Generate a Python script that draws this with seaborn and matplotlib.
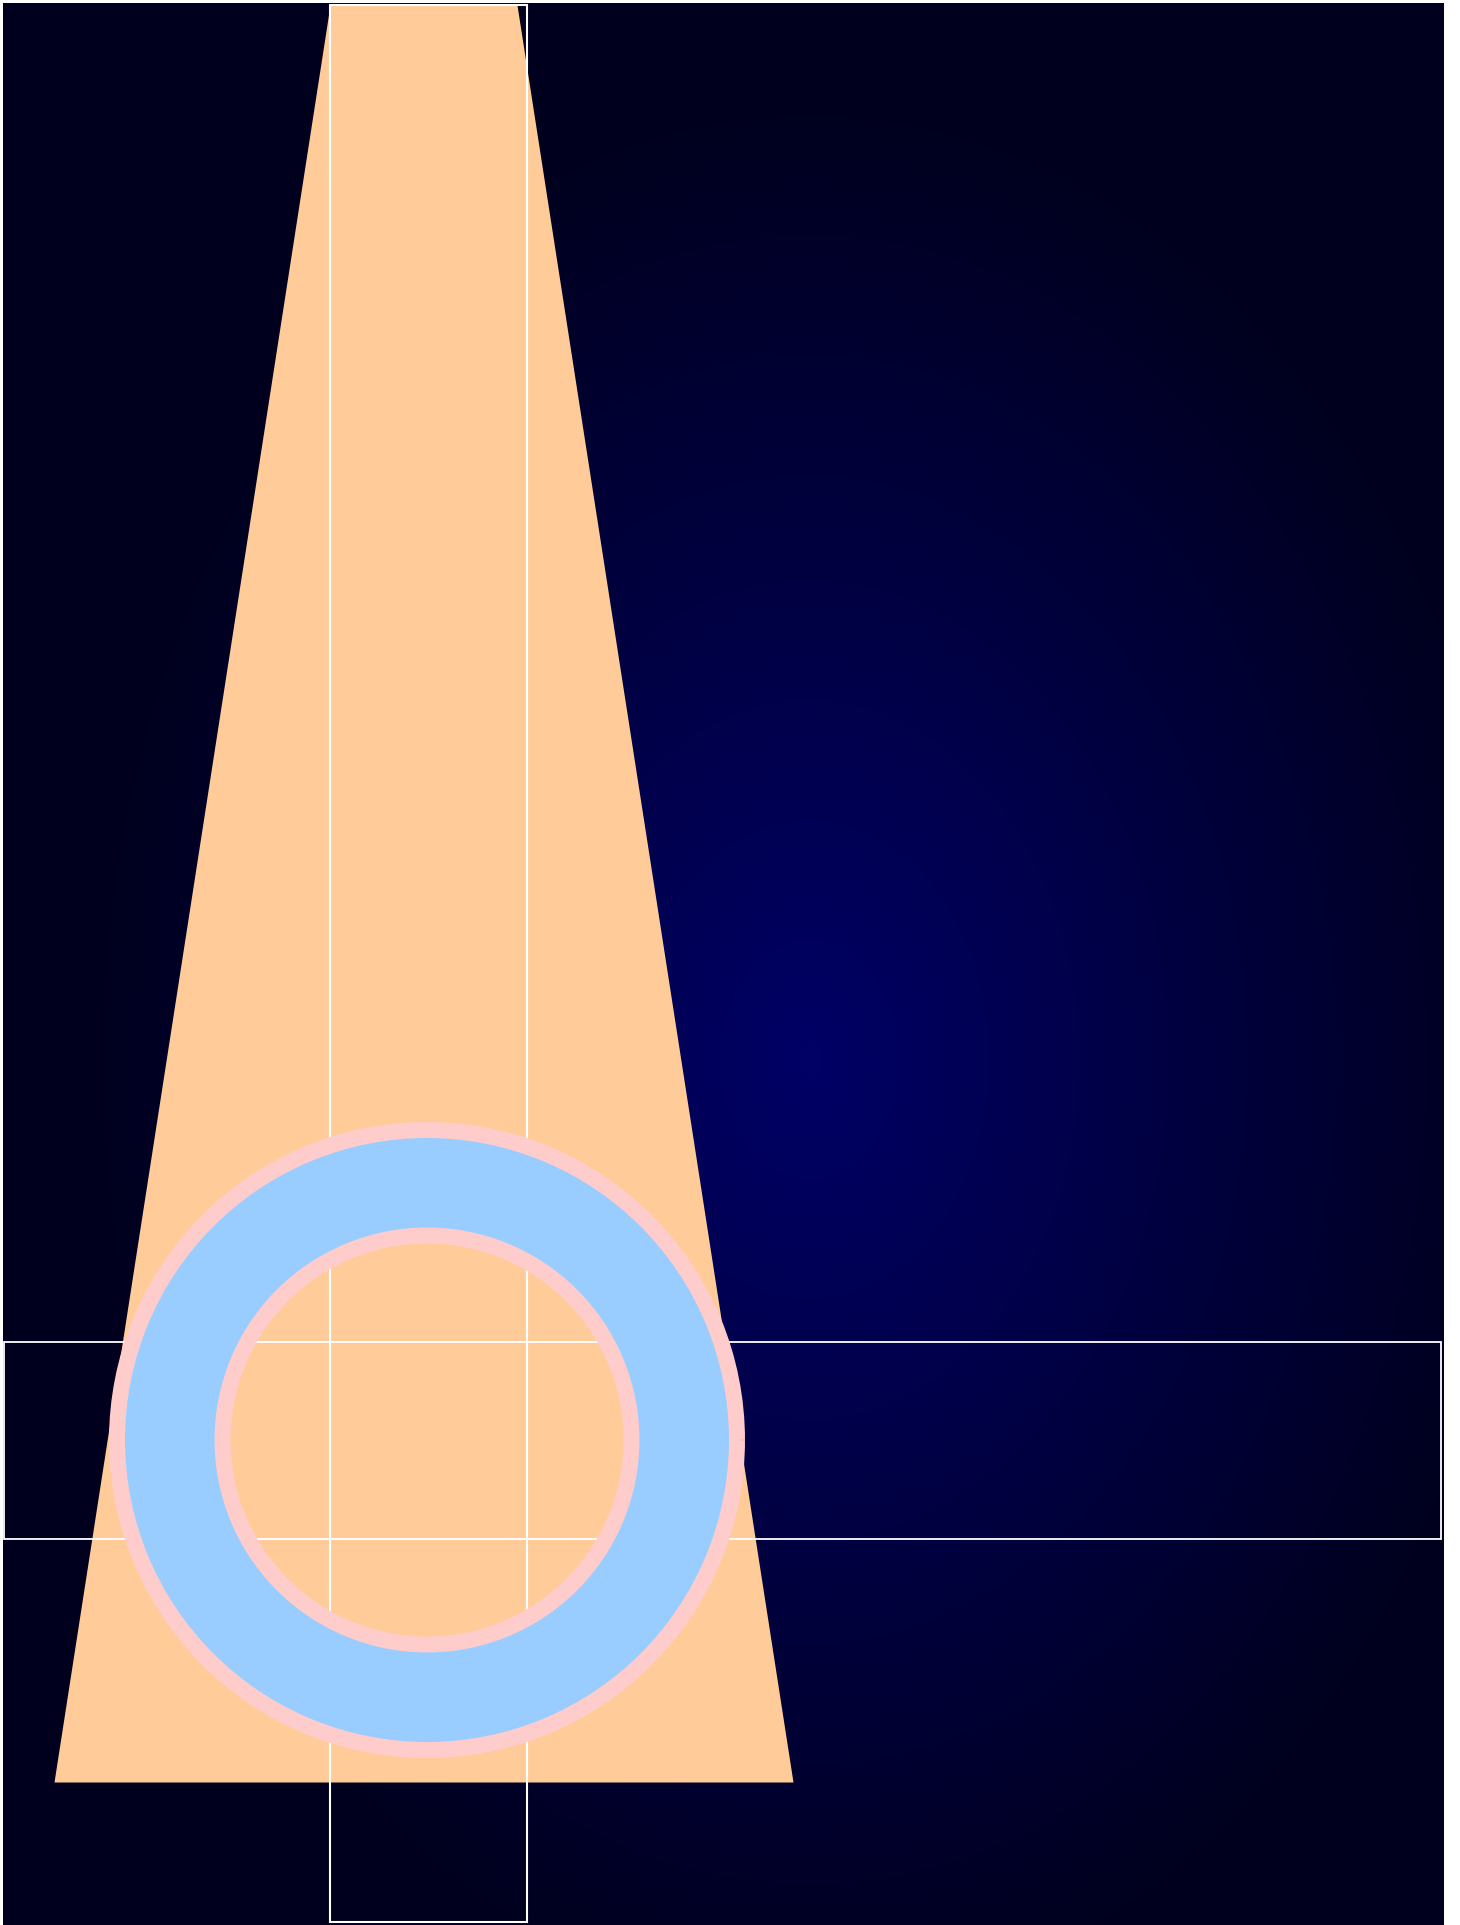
import numpy as np
import matplotlib.pyplot as plt
import seaborn as sns
from matplotlib.colors import LinearSegmentedColormap

sns.set_theme(style="white")

# everything below is in canvas units (1 unit = 1 px, y grows downward)
canvas_w, canvas_h = 1460, 1925
panel_x = [3, 1444]
panel_y = [3, 1925]

# funnel / trapezoid
funnel_y = [5, 1782]
funnel_left = [330, 54]
funnel_right = [517, 793]

# tall column (outline only)
column_x = [428.5]
column_height = [1917]
column_bottom = 5
column_width = 197

# horizontal band (outline only)
band_y = [1440.5]
band_length = [1437]
band_left = 4
band_height = 197

# ring
ring_share = [1]
ring_center = (427, 1440)
ring_radius = 310
ring_width = 105.5

fig = plt.figure(figsize=(canvas_w / 100, canvas_h / 100), dpi=100)
fig.patch.set_facecolor("white")
ax = fig.add_axes([0, 0, 1, 1])

# navy radial glow behind everything
u = np.linspace(0, 1, 300)
v = np.linspace(0, 1, 400)
U, V = np.meshgrid(u, v)
t = np.clip(np.hypot((U - 0.56) / 0.5, (V - 0.55) / 0.5), 0, 1)
navy = LinearSegmentedColormap.from_list("navy", ["#000066", "#00001e"])
ax.imshow(t, cmap=navy, vmin=0, vmax=1, origin="upper", aspect="auto",
          interpolation="bilinear",
          extent=[panel_x[0], panel_x[1], panel_y[1], panel_y[0]], zorder=0)

ax.fill_betweenx(funnel_y, funnel_left, funnel_right, color="#FFCC99", lw=0, zorder=1)

ax.bar(column_x, column_height, width=column_width, bottom=column_bottom,
       facecolor="none", edgecolor="white", linewidth=1.5, zorder=2)
ax.barh(band_y, band_length, height=band_height, left=band_left,
        facecolor="none", edgecolor="white", linewidth=1.3, zorder=2)

ax.pie(ring_share, radius=ring_radius, center=ring_center, colors=["#99CCFF"],
       frame=True,
       wedgeprops=dict(width=ring_width, edgecolor="#FFCCCC", linewidth=11.5, zorder=3))

ax.set_aspect("auto")
ax.set_xlim(0, canvas_w)
ax.set_ylim(canvas_h, 0)
ax.axis("off")

fig.savefig("out.png", dpi=100, facecolor="white")
